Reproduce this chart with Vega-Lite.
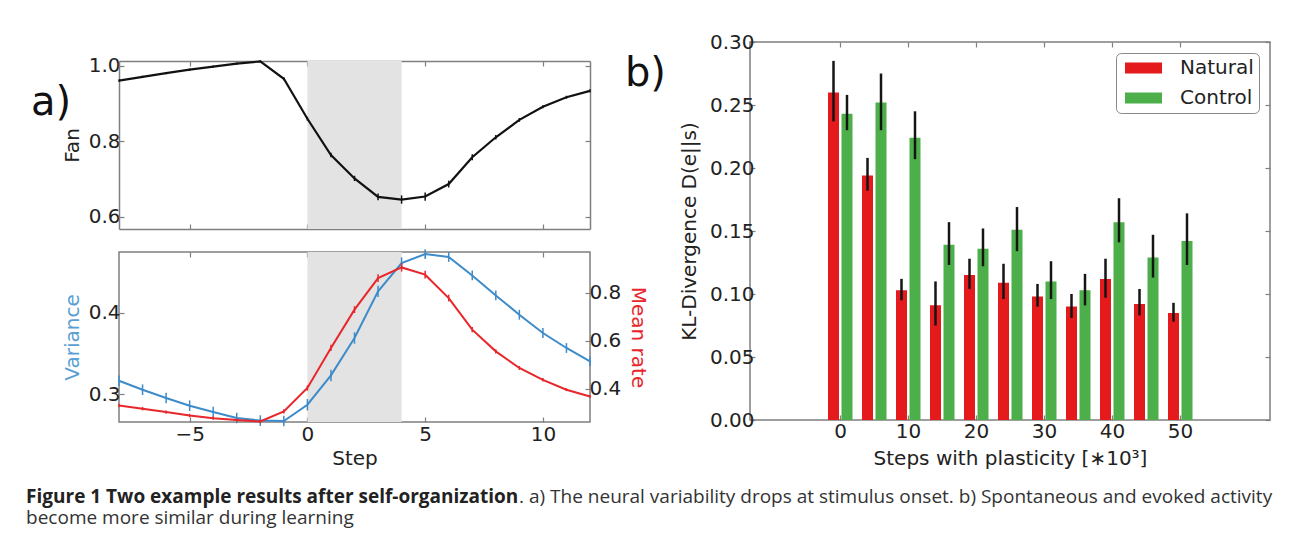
{
  "$schema": "https://vega.github.io/schema/vega-lite/v6.json",
  "padding": {"left": 26, "top": 31, "right": 4, "bottom": 4},
  "background": "white",
  "datasets": {
    "steps": [
      {"step": -8, "fan": 0.961, "fanErr": 0.003, "var": 0.3167, "varErr": 0.0065, "rate": 0.3315, "rateErr": 0.007},
      {"step": -7, "fan": 0.971, "fanErr": 0.003, "var": 0.3057, "varErr": 0.0065, "rate": 0.318, "rateErr": 0.007},
      {"step": -6, "fan": 0.981, "fanErr": 0.003, "var": 0.2956, "varErr": 0.0065, "rate": 0.304, "rateErr": 0.007},
      {"step": -5, "fan": 0.990, "fanErr": 0.003, "var": 0.2862, "varErr": 0.0065, "rate": 0.290, "rateErr": 0.007},
      {"step": -4, "fan": 0.998, "fanErr": 0.003, "var": 0.2785, "varErr": 0.0065, "rate": 0.279, "rateErr": 0.007},
      {"step": -3, "fan": 1.006, "fanErr": 0.003, "var": 0.2712, "varErr": 0.0065, "rate": 0.271, "rateErr": 0.007},
      {"step": -2, "fan": 1.012, "fanErr": 0.003, "var": 0.2680, "varErr": 0.0065, "rate": 0.265, "rateErr": 0.007},
      {"step": -1, "fan": 0.966, "fanErr": 0.004, "var": 0.2675, "varErr": 0.0065, "rate": 0.307, "rateErr": 0.009},
      {"step": 0, "fan": 0.860, "fanErr": 0.005, "var": 0.2874, "varErr": 0.007, "rate": 0.404, "rateErr": 0.011},
      {"step": 1, "fan": 0.764, "fanErr": 0.006, "var": 0.3232, "varErr": 0.007, "rate": 0.570, "rateErr": 0.013},
      {"step": 2, "fan": 0.702, "fanErr": 0.007, "var": 0.3689, "varErr": 0.007, "rate": 0.729, "rateErr": 0.014},
      {"step": 3, "fan": 0.653, "fanErr": 0.009, "var": 0.4258, "varErr": 0.007, "rate": 0.860, "rateErr": 0.016},
      {"step": 4, "fan": 0.646, "fanErr": 0.011, "var": 0.4604, "varErr": 0.007, "rate": 0.904, "rateErr": 0.017},
      {"step": 5, "fan": 0.654, "fanErr": 0.011, "var": 0.4714, "varErr": 0.006, "rate": 0.874, "rateErr": 0.016},
      {"step": 6, "fan": 0.687, "fanErr": 0.009, "var": 0.4678, "varErr": 0.006, "rate": 0.777, "rateErr": 0.014},
      {"step": 7, "fan": 0.758, "fanErr": 0.008, "var": 0.4453, "varErr": 0.006, "rate": 0.646, "rateErr": 0.011},
      {"step": 8, "fan": 0.811, "fanErr": 0.006, "var": 0.4209, "varErr": 0.006, "rate": 0.556, "rateErr": 0.009},
      {"step": 9, "fan": 0.857, "fanErr": 0.005, "var": 0.3973, "varErr": 0.006, "rate": 0.487, "rateErr": 0.008},
      {"step": 10, "fan": 0.892, "fanErr": 0.004, "var": 0.3750, "varErr": 0.006, "rate": 0.438, "rateErr": 0.007},
      {"step": 11, "fan": 0.917, "fanErr": 0.004, "var": 0.3567, "varErr": 0.006, "rate": 0.397, "rateErr": 0.006},
      {"step": 12, "fan": 0.934, "fanErr": 0.004, "var": 0.3403, "varErr": 0.006, "rate": 0.369, "rateErr": 0.006}
    ],
    "shade": [{"start": 0, "end": 4}],
    "kl": [
      {"step": 0, "cond": "Natural", "value": 0.260, "lo": 0.237, "hi": 0.285},
      {"step": 0, "cond": "Control", "value": 0.243, "lo": 0.230, "hi": 0.258},
      {"step": 5, "cond": "Natural", "value": 0.194, "lo": 0.182, "hi": 0.208},
      {"step": 5, "cond": "Control", "value": 0.252, "lo": 0.230, "hi": 0.275},
      {"step": 10, "cond": "Natural", "value": 0.103, "lo": 0.095, "hi": 0.112},
      {"step": 10, "cond": "Control", "value": 0.224, "lo": 0.207, "hi": 0.245},
      {"step": 15, "cond": "Natural", "value": 0.091, "lo": 0.075, "hi": 0.110},
      {"step": 15, "cond": "Control", "value": 0.139, "lo": 0.123, "hi": 0.157},
      {"step": 20, "cond": "Natural", "value": 0.115, "lo": 0.104, "hi": 0.128},
      {"step": 20, "cond": "Control", "value": 0.136, "lo": 0.122, "hi": 0.152},
      {"step": 25, "cond": "Natural", "value": 0.109, "lo": 0.096, "hi": 0.124},
      {"step": 25, "cond": "Control", "value": 0.151, "lo": 0.134, "hi": 0.169},
      {"step": 30, "cond": "Natural", "value": 0.098, "lo": 0.090, "hi": 0.108},
      {"step": 30, "cond": "Control", "value": 0.110, "lo": 0.096, "hi": 0.126},
      {"step": 35, "cond": "Natural", "value": 0.090, "lo": 0.081, "hi": 0.100},
      {"step": 35, "cond": "Control", "value": 0.103, "lo": 0.091, "hi": 0.116},
      {"step": 40, "cond": "Natural", "value": 0.112, "lo": 0.097, "hi": 0.128},
      {"step": 40, "cond": "Control", "value": 0.157, "lo": 0.141, "hi": 0.176},
      {"step": 45, "cond": "Natural", "value": 0.092, "lo": 0.083, "hi": 0.104},
      {"step": 45, "cond": "Control", "value": 0.129, "lo": 0.113, "hi": 0.147},
      {"step": 50, "cond": "Natural", "value": 0.085, "lo": 0.078, "hi": 0.093},
      {"step": 50, "cond": "Control", "value": 0.142, "lo": 0.123, "hi": 0.164}
    ]
  },
  "config": {
    "font": "DejaVu Sans",
    "view": {"stroke": "#7f7f7f", "strokeWidth": 1.5},
    "axis": {
      "domain": false,
      "grid": false,
      "domainColor": "#7f7f7f",
      "domainWidth": 1.5,
      "tickColor": "#7f7f7f",
      "tickWidth": 1.2,
      "tickSize": -5,
      "labelFont": "DejaVu Sans",
      "labelFontSize": 20,
      "labelColor": "#222222",
      "titleFont": "DejaVu Sans",
      "titleFontSize": 20,
      "titleFontWeight": "normal",
      "titleColor": "#222222"
    }
  },
  "title": {
    "text": ". a) The neural variability drops at stimulus onset. b) Spontaneous and evoked activity",
    "orient": "bottom",
    "anchor": "start",
    "frame": "bounds",
    "font": "Open Sans",
    "fontSize": 19,
    "fontWeight": "normal",
    "color": "#333333",
    "offset": 0,
    "dx": 493,
    "dy": -40
  },
  "resolve": {"scale": {"color": "independent"}, "legend": {"color": "independent"}},
  "vconcat": [
    {
      "title": {
        "text": "Figure 1 Two example results after self-organization",
        "subtitle": "become more similar during learning",
        "orient": "bottom",
        "anchor": "start",
        "frame": "bounds",
        "font": "Open Sans",
        "fontSize": 19,
        "fontWeight": "bold",
        "color": "#222222",
        "subtitleFont": "Open Sans",
        "subtitleFontSize": 19,
        "subtitleFontWeight": "normal",
        "subtitleColor": "#333333",
        "subtitlePadding": 2,
        "offset": 19,
        "dx": -5
      },
      "spacing": -25,
      "resolve": {"scale": {"color": "independent"}, "legend": {"color": "independent"}},
      "hconcat": [
        {
          "spacing": 17,
          "vconcat": [
            {
              "width": 471,
              "height": 187,
              "view": {"stroke": null},
              "title": {"text": "a)", "orient": "left", "anchor": "end", "frame": "group", "angle": 0, "align": "left", "baseline": "top", "font": "DejaVu Sans", "fontSize": 40, "fontWeight": "normal", "color": "#111111", "offset": -9, "dy": 41},
              "layer": [
                {
                  "data": {"name": "shade"},
                  "mark": {"type": "rect", "color": "#e3e3e3"},
                  "encoding": {
                    "x": {"field": "start", "type": "quantitative", "scale": {"domain": [-8, 12], "nice": false, "zero": false}, "axis": {"orient": "bottom", "values": [-5, 0, 5, 10], "labels": false, "domain": true, "title": null}},
                    "x2": {"field": "end"},
                    "y": {"datum": 0.568, "type": "quantitative", "scale": {"domain": [0.568, 1.013], "range": [187, 19], "nice": false, "zero": false}, "axis": null},
                    "y2": {"datum": 1.013}
                  }
                },
                {
                  "data": {"name": "steps"},
                  "mark": {"type": "line", "color": "#111111", "strokeWidth": 2.2},
                  "encoding": {
                    "x": {"field": "step", "type": "quantitative", "scale": {"domain": [-8, 12], "nice": false, "zero": false}, "axis": {"orient": "top", "values": [-5, 0, 5, 10], "labels": false, "domain": true, "title": null, "offset": -19}},
                    "y": {"field": "fan", "type": "quantitative", "scale": {"domain": [0.568, 1.013], "range": [187, 19], "nice": false, "zero": false}, "axis": {"orient": "left", "values": [0.6, 0.8, 1.0], "format": ".1f", "domain": true, "title": "Fan", "labelPadding": 4, "titlePadding": 6}}
                  }
                },
                {
                  "data": {"name": "steps"},
                  "mark": {"type": "errorbar", "color": "#111111", "thickness": 1.5},
                  "encoding": {
                    "x": {"field": "step", "type": "quantitative", "scale": {"domain": [-8, 12], "nice": false, "zero": false}, "axis": null},
                    "y": {"field": "fan", "type": "quantitative", "scale": {"domain": [0.568, 1.013], "range": [187, 19], "nice": false, "zero": false}, "axis": {"orient": "right", "values": [0.6, 0.8, 1.0], "labels": false, "domain": true, "title": null}},
                    "yError": {"field": "fanErr"}
                  }
                }
              ],
              "resolve": {"axis": {"x": "independent", "y": "independent"}}
            },
            {
              "width": 471,
              "height": 170,
              "layer": [
                {
                  "data": {"name": "shade"},
                  "mark": {"type": "rect", "color": "#e3e3e3"},
                  "encoding": {
                    "x": {"field": "start", "type": "quantitative", "scale": {"domain": [-8, 12], "nice": false, "zero": false}, "axis": {"orient": "bottom", "values": [-5, 0, 5, 10], "title": "Step", "labelPadding": 7, "titlePadding": 4}},
                    "x2": {"field": "end"}
                  }
                },
                {
                  "data": {"name": "steps"},
                  "layer": [
                    {
                      "mark": {"type": "line", "color": "#3d8bc9", "strokeWidth": 2},
                      "encoding": {
                        "x": {"field": "step", "type": "quantitative", "scale": {"domain": [-8, 12], "nice": false, "zero": false}, "axis": {"orient": "top", "values": [-5, 0, 5, 10], "labels": false, "title": null}},
                        "y": {"field": "var", "type": "quantitative", "scale": {"domain": [0.2663, 0.4739], "nice": false, "zero": false}, "axis": {"orient": "left", "values": [0.3, 0.4], "format": ".1f", "title": "Variance", "titleColor": "#5a9fd4", "labelPadding": 4, "titlePadding": 6}}
                      }
                    },
                    {
                      "mark": {"type": "errorbar", "color": "#3d8bc9", "thickness": 1.5},
                      "encoding": {
                        "x": {"field": "step", "type": "quantitative", "scale": {"domain": [-8, 12], "nice": false, "zero": false}, "axis": {"orient": "top", "values": [-5, 0, 5, 10], "labels": false, "title": null}},
                        "y": {"field": "var", "type": "quantitative", "scale": {"domain": [0.2663, 0.4739], "nice": false, "zero": false}, "axis": {"orient": "left", "values": [0.3, 0.4], "format": ".1f", "title": "Variance", "titleColor": "#5a9fd4", "labelPadding": 4, "titlePadding": 6}},
                        "yError": {"field": "varErr"}
                      }
                    }
                  ]
                },
                {
                  "data": {"name": "steps"},
                  "layer": [
                    {
                      "mark": {"type": "line", "color": "#e8262b", "strokeWidth": 2},
                      "encoding": {
                        "x": {"field": "step", "type": "quantitative", "scale": {"domain": [-8, 12], "nice": false, "zero": false}, "axis": null},
                        "y": {"field": "rate", "type": "quantitative", "scale": {"domain": [0.263, 0.968], "nice": false, "zero": false}, "axis": {"orient": "right", "values": [0.4, 0.6, 0.8], "format": ".1f", "title": "Mean rate", "titleColor": "#e8262b", "labelPadding": 4, "titlePadding": 7}}
                      }
                    },
                    {
                      "mark": {"type": "errorbar", "color": "#e8262b", "thickness": 1.5},
                      "encoding": {
                        "x": {"field": "step", "type": "quantitative", "scale": {"domain": [-8, 12], "nice": false, "zero": false}, "axis": null},
                        "y": {"field": "rate", "type": "quantitative", "scale": {"domain": [0.263, 0.968], "nice": false, "zero": false}, "axis": {"orient": "right", "values": [0.4, 0.6, 0.8], "format": ".1f", "title": "Mean rate", "titleColor": "#e8262b", "labelPadding": 4, "titlePadding": 7}},
                        "yError": {"field": "rateErr"}
                      }
                    }
                  ]
                }
              ],
              "resolve": {"scale": {"y": "independent"}, "axis": {"x": "independent", "y": "independent"}}
            }
          ]
        },
        {
          "width": 520,
          "height": 378,
          "data": {"name": "kl"},
          "title": {"text": "b)", "orient": "left", "anchor": "end", "frame": "group", "angle": 0, "align": "left", "baseline": "top", "font": "DejaVu Sans", "fontSize": 40, "fontWeight": "normal", "color": "#111111", "offset": 14, "dy": 12},
          "layer": [
            {
              "transform": [{"filter": "datum.cond === 'Natural'"}],
              "mark": {"type": "bar", "size": 11, "xOffset": -6.5},
              "encoding": {
                "x": {"field": "step", "type": "quantitative", "scale": {"domain": [-12.5, 62.5], "nice": false, "zero": false}, "axis": {"orient": "bottom", "values": [0, 10, 20, 30, 40, 50], "title": "Steps with plasticity [∗10³]", "labelPadding": 6, "titlePadding": 7.5}},
                "y": {"field": "value", "type": "quantitative", "scale": {"domain": [0, 0.3], "nice": false}, "axis": {"orient": "left", "values": [0, 0.05, 0.1, 0.15, 0.2, 0.25, 0.3], "format": ".2f", "title": "KL-Divergence D(e||s)", "labelPadding": 1, "titlePadding": 9.5}},
                "color": {"field": "cond", "type": "nominal", "scale": {"domain": ["Natural", "Control"], "range": ["#e41a1c", "#4daf4a"]}, "legend": {"title": null, "orient": "top-right", "offset": 11, "fillColor": "white", "strokeColor": "#8a8a8a", "cornerRadius": 5, "padding": 5, "symbolOffset": 4, "symbolType": "M-1,-0.3H1V0.3H-1Z", "symbolSize": 1369, "symbolStrokeWidth": 0, "clipHeight": 20, "rowPadding": 10, "labelFont": "DejaVu Sans", "labelFontSize": 20, "labelColor": "#222222", "labelOffset": 18}}
              }
            },
            {
              "transform": [{"filter": "datum.cond === 'Control'"}],
              "mark": {"type": "bar", "size": 11, "xOffset": 7},
              "encoding": {
                "x": {"field": "step", "type": "quantitative", "scale": {"domain": [-12.5, 62.5], "nice": false, "zero": false}, "axis": {"orient": "top", "values": [0, 10, 20, 30, 40, 50], "labels": false, "title": null}},
                "y": {"field": "value", "type": "quantitative", "scale": {"domain": [0, 0.3], "nice": false}, "axis": {"orient": "right", "values": [0, 0.05, 0.1, 0.15, 0.2, 0.25, 0.3], "labels": false, "title": null}},
                "color": {"field": "cond", "type": "nominal", "scale": {"domain": ["Natural", "Control"], "range": ["#e41a1c", "#4daf4a"]}}
              }
            },
            {
              "transform": [{"filter": "datum.cond === 'Natural'"}],
              "mark": {"type": "rule", "color": "#151515", "strokeWidth": 2.5, "xOffset": -6.5},
              "encoding": {
                "x": {"field": "step", "type": "quantitative", "scale": {"domain": [-12.5, 62.5], "nice": false, "zero": false}, "axis": null},
                "y": {"field": "lo", "type": "quantitative", "scale": {"domain": [0, 0.3], "nice": false}, "axis": null},
                "y2": {"field": "hi"}
              }
            },
            {
              "transform": [{"filter": "datum.cond === 'Control'"}],
              "mark": {"type": "rule", "color": "#151515", "strokeWidth": 2.5, "xOffset": 7},
              "encoding": {
                "x": {"field": "step", "type": "quantitative", "scale": {"domain": [-12.5, 62.5], "nice": false, "zero": false}, "axis": null},
                "y": {"field": "lo", "type": "quantitative", "scale": {"domain": [0, 0.3], "nice": false}, "axis": null},
                "y2": {"field": "hi"}
              }
            }
          ],
          "resolve": {"axis": {"x": "independent", "y": "independent"}}
        }
      ]
    }
  ]
}
